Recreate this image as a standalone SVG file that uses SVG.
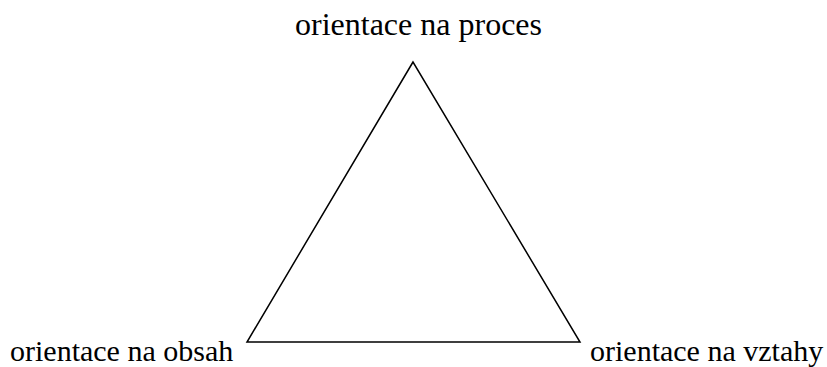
<svg xmlns="http://www.w3.org/2000/svg" width="827" height="367" viewBox="0 0 827 367">
<style>
.lbl{font-family:"Liberation Serif","Times New Roman",serif;fill:#000}
.top{font-size:32px}
.bot{font-size:30px}
.edge{fill:none;stroke:#000;stroke-width:1.5}
</style>
<rect width="827" height="367" fill="#fff"/>
<g id="connectors">
<polygon class="edge" points="413,62 247,342 580,342"/>
</g>
<g id="node-proces"><text class="lbl top" x="418.5" y="35" text-anchor="middle">orientace na proces</text></g>
<g id="node-obsah"><text class="lbl bot" x="10" y="361">orientace na obsah</text></g>
<g id="node-vztahy"><text class="lbl bot" x="590" y="361">orientace na vztahy</text></g>
</svg>
